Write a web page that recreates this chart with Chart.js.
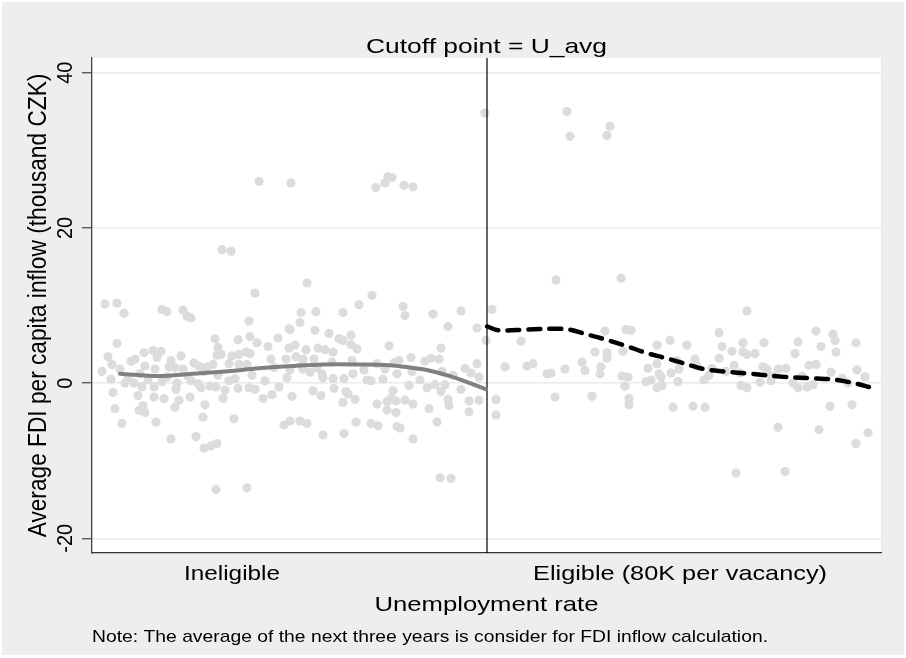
<!DOCTYPE html>
<html>
<head>
<meta charset="utf-8">
<script src="https://cdn.jsdelivr.net/npm/chart.js@4.4.1/dist/chart.umd.min.js"></script>
<style>
  html,body{margin:0;padding:0;background:#fff;}
  #wrap{position:relative;width:906px;height:658px;}
</style>
</head>
<body>
<div id="wrap"><canvas id="chart" width="906" height="658"></canvas></div>
<script>
// ── données ──
const TITLE = 'Cutoff point = U_avg';
const Y_TITLE = 'Average FDI per capita inflow (thousand CZK)';
const X_TITLE = 'Unemployment rate';
const NOTE = 'Note: The average of the next three years is consider for FDI inflow calculation.';
const X_TICKS = [14.0, 58.8];
const X_LABELS = ['Ineligible', 'Eligible (80K per vacancy)'];
const Y_TICKS = [-20, 0, 20, 40];
const X_MIN = 0, X_MAX = 78.9, Y_MIN = -21.9, Y_MAX = 41.9;
const CUTOFF = 39.5;

// nuage : côté non éligible
const leftX = [13.0,13.9,16.3,1.3,2.5,3.2,7.0,7.5,9.1,9.5,9.9,15.7,19.7,2.5,12.3,14.6,15.8,16.5,18.6,17.6,
  19.7,12.6,12.5,12.9,1.6,2.0,5.2,6.1,6.9,6.5,8.9,3.9,4.3,5.3,7.9,7.7,14.0,14.7,15.4,15.8,
  17.9,19.4,10.2,10.7,11.5,12.1,13.7,14.7,15.5,2.8,6.3,8.3,9.1,1.9,3.3,4.2,5.6,6.2,7.5,8.5,
  8.4,10.6,10.9,11.8,12.4,13.3,14.3,14.6,15.7,16.3,18.7,19.5,2.1,4.6,6.2,7.2,9.8,8.7,8.3,13.1,
  17.1,18.0,2.3,4.7,5.1,5.3,11.3,11.1,3.0,6.4,14.2,19.2,7.9,10.4,11.2,11.9,12.5,12.4,15.5,
  3.6,4.8,9.6,11.2,12.6,16.0,17.3,18.2,1.0,5.0,7.0,9.9,13.7,
  21.5,28.0,26.7,31.1,31.3,36.9,34.1,20.9,22.4,25.1,20.8,19.8,22.3,23.7,24.7,25.1,25.9,25.9,26.5,35.6,
  38.5,39.4,20.3,21.4,22.6,23.3,24.1,29.7,34.9,31.9,20.4,21.1,22.2,33.3,33.9,34.7,38.5,37.3,37.9,38.7,
  30.7,30.2,29.3,19.8,21.1,21.8,23.0,23.1,24.1,25.2,26.1,27.2,27.5,27.9,29.1,30.5,32.8,33.5,34.3,35.3,
  36.1,31.7,24.2,20.0,22.1,22.9,25.4,25.6,25.1,26.3,30.1,29.9,29.5,30.4,28.5,31.3,32.1,34.9,35.6,35.7,
  33.7,36.9,37.7,37.7,38.7,29.5,30.4,19.8,20.8,21.5,26.4,27.9,28.6,34.5,30.5,30.8,23.1,25.2,32.1,34.8,35.9,
  39.3,16.7,19.9,28.4,29.3,29.6,30.0,31.2,32.1,
  21.0,24.0,26.0,28.5,32.0,35.0,22.5];
const leftY = [17.2,17.0,11.6,10.2,10.3,9.0,9.5,9.2,9.4,8.6,8.4,8.0,7.0,5.1,5.7,5.6,6.0,5.2,5.8,4.7,
  4.5,4.6,3.6,3.7,3.4,2.4,3.9,4.2,4.1,3.3,3.5,2.8,3.1,2.2,2.9,2.1,3.5,3.7,4.0,3.8,
  3.1,3.1,2.6,2.2,2.1,2.4,2.5,2.4,2.4,1.8,1.8,2.0,1.8,0.5,0.0,0.0,0.4,-0.5,0.8,0.0,
  -0.8,-0.1,-0.6,-0.4,-0.5,-0.9,0.6,-0.7,-0.6,-0.8,-0.5,0.7,-1.2,-1.6,-1.8,-2.0,-1.8,-2.2,-3.1,-2.0,
  -2.0,-1.5,-3.3,-3.5,-2.9,-3.8,-2.8,-4.4,-5.2,-5.0,-4.6,-5.4,-7.2,-6.9,-8.4,-8.1,-7.8,-13.7,-13.5,
  0.6,1.2,0.9,1.5,1.0,1.0,0.3,2.0,1.5,-0.5,0.2,0.3,0.3,
  12.9,11.3,10.1,9.9,8.7,9.3,8.9,9.1,9.2,9.1,7.8,6.9,6.8,6.4,5.7,5.5,6.2,5.0,4.4,7.3,
  7.1,5.5,4.9,4.3,4.5,4.3,4.0,4.8,4.5,3.3,3.4,3.1,3.1,2.8,3.2,3.1,2.5,1.9,1.3,0.8,
  2.9,2.6,1.8,1.7,1.8,1.4,1.2,0.7,0.6,0.6,1.2,1.7,0.4,0.3,0.5,1.2,0.4,-0.6,-0.2,-0.2,
  1.0,-0.3,-0.7,-1.7,-1.0,-1.6,-1.1,-1.4,-2.5,-2.1,-1.0,-2.0,-2.4,-2.3,-2.7,-2.2,-2.7,-1.1,-2.1,-2.9,
  -3.3,-0.8,-2.3,-3.7,-2.2,-3.5,-3.8,-4.9,-4.9,-5.2,-5.0,-5.2,-5.5,-5.0,-5.6,-5.8,-6.7,-6.5,-7.2,-12.2,-12.3,
  34.8,26.0,25.8,25.2,25.8,26.6,26.5,25.5,25.3,
  2.3,2.7,2.9,2.5,1.5,1.5,2.0];

// nuage : côté éligible
const rightX = [47.5,47.8,51.8,51.5,46.4,52.9,40.0,42.9,51.3,53.4,53.9,57.8,56.5,50.3,51.5,51.5,53.1,41.3,43.5,44.1,
  45.5,45.9,47.3,49.0,49.3,50.9,50.8,53.0,53.6,55.6,56.5,56.7,56.9,57.9,58.7,59.5,53.3,55.4,55.9,56.5,
  57.0,58.6,40.4,40.4,46.3,50.0,53.7,53.7,58.1,
  65.5,62.7,72.4,74.1,74.3,76.4,63.0,65.1,67.2,70.6,64.0,65.1,65.5,66.3,70.3,72.9,74.4,62.7,60.3,64.2,
  67.1,67.5,68.6,69.4,71.7,72.4,73.9,76.5,77.3,61.2,61.7,63.4,66.8,67.9,64.9,65.5,70.1,70.6,71.5,72.1,
  75.6,60.1,61.3,73.8,76.0,68.6,72.7,76.4,77.6,64.4,69.3,
  60.5,62.0,64.8,68.0,71.0,75.0,58.5];
const rightY = [35.0,31.8,33.1,31.9,13.3,13.5,9.5,5.4,6.7,6.9,6.8,5.5,4.9,4.0,3.9,3.2,4.1,2.1,2.2,2.5,
  1.2,1.3,1.8,2.7,1.6,2.1,1.2,0.9,0.8,1.9,2.5,1.2,0.8,1.3,1.8,4.9,-0.4,0.2,0.4,-0.6,
  -0.3,0.2,-2.1,-4.1,-1.8,-1.7,-2.0,-2.8,-3.1,
  9.3,6.5,6.7,6.3,5.5,5.2,4.7,5.2,5.2,5.3,4.1,4.0,3.7,3.8,3.8,4.7,4.0,3.2,3.1,2.3,
  2.1,1.8,1.8,1.9,2.3,2.4,1.4,1.7,0.8,0.4,1.0,1.5,0.1,0.3,-0.3,-0.6,0.0,-0.6,-0.5,-0.2,
  0.0,-3.0,-3.1,-3.0,-2.8,-5.7,-6.0,-7.8,-6.4,-11.6,-11.4,
  2.2,1.9,1.3,0.9,0.9,0.6,2.9];

// ajustements locaux (lowess) de part et d'autre du seuil
const fitLeftX = [2.8,6.7,10.0,13.3,16.7,20.0,23.1,26.5,29.8,31.8,33.8,35.8,37.8,39.4];
const fitLeftY = [1.2,0.9,1.2,1.5,1.9,2.2,2.4,2.4,2.3,2.0,1.6,0.9,0.0,-0.8];
const fitRightX = [39.5,40.7,43.4,46.1,47.7,49.4,51.4,53.4,55.4,57.4,59.3,61.2,63.2,65.9,69.2,72.5,74.5,76.5,77.7];
const fitRightY = [7.3,6.8,6.9,7.0,6.9,6.3,5.6,4.8,3.9,3.2,2.5,1.8,1.5,1.2,0.8,0.6,0.4,-0.1,-0.5];

const pts = (xs, ys) => xs.map((x,i) => ({ x, y: ys[i] }));
const FONT = '"Liberation Sans", Arial, sans-serif';

// texte façon Stata (glyphes étirés horizontalement)
function label(ctx, s, x, y, o){
  ctx.save();
  ctx.font = o.size + 'px ' + FONT;
  ctx.fillStyle = '#000';
  ctx.textAlign = o.align || 'center';
  ctx.textBaseline = 'alphabetic';
  const m = ctx.measureText(s).width;
  ctx.translate(x, y);
  if(o.rot){ ctx.scale(1.1, 1); ctx.rotate(-Math.PI/2); }
  else ctx.scale(o.w ? o.w/m : 1, 1);
  ctx.fillText(s, 0, 0);
  ctx.restore();
}

const decor = {
  id: 'decor',
  beforeDraw(chart){
    const { ctx, chartArea: a } = chart;
    ctx.save();
    ctx.fillStyle = '#fff';
    ctx.fillRect(0, 0, chart.width, chart.height);
    ctx.fillStyle = '#eeeeee';
    ctx.fillRect(2, 2, chart.width - 4, chart.height - 5);
    ctx.fillStyle = '#fff';
    ctx.fillRect(a.left, a.top, a.right - a.left, a.bottom - a.top);
    ctx.strokeStyle = '#e3eaec';
    ctx.lineWidth = 1;
    ctx.beginPath(); ctx.moveTo(a.right + 0.5, a.top); ctx.lineTo(a.right + 0.5, a.bottom); ctx.stroke();
    ctx.restore();
  },
  afterDraw(chart){
    const { ctx, chartArea: a, scales: { x, y } } = chart;
    const cx = (a.left + a.right) / 2;
    label(ctx, TITLE, cx, 53, { size: 21, w: 241 });
    X_TICKS.forEach((v,i) => {
      const w = i ? 294 : 96;
      label(ctx, X_LABELS[i], x.getPixelForValue(v), 580, { size: 21, w });
    });
    label(ctx, X_TITLE, cx, 611, { size: 21, w: 224 });
    label(ctx, NOTE, a.left, 642, { size: 17, w: 676, align: 'left' });
    Y_TICKS.forEach(v => label(ctx, String(v), 72, y.getPixelForValue(v), { size: 20, rot: true }));
    label(ctx, Y_TITLE, 46, (a.top + a.bottom) / 2, { size: 22.7, rot: true });
  }
};

new Chart(document.getElementById('chart'), {
  type: 'scatter',
  data: {
    datasets: [
      { label: 'seuil', data: [{x:CUTOFF,y:Y_MIN},{x:CUTOFF,y:Y_MAX}], showLine: true,
        borderColor: '#000', borderWidth: 1.2, pointRadius: 0, order: 1 },
      { label: 'fit gauche', data: pts(fitLeftX, fitLeftY), showLine: true, tension: 0.35,
        borderColor: '#808080', borderWidth: 4, pointRadius: 0, borderCapStyle: 'round', order: 0 },
      { label: 'fit droite', data: pts(fitRightX, fitRightY), showLine: true, tension: 0.35,
        borderColor: '#000', borderWidth: 4.5, borderDash: [12, 9], borderCapStyle: 'round',
        pointRadius: 0, order: 0 },
      { label: 'inéligible', data: pts(leftX, leftY), pointRadius: 4.6, pointBorderWidth: 0,
        pointBackgroundColor: '#dcdcdc', order: 2 },
      { label: 'éligible', data: pts(rightX, rightY), pointRadius: 4.6, pointBorderWidth: 0,
        pointBackgroundColor: '#dcdcdc', order: 2 }
    ]
  },
  options: {
    responsive: false,
    animation: false,
    events: [],
    layout: { padding: { top: 58, right: 25, bottom: 0, left: 0 } },
    plugins: { legend: { display: false }, tooltip: { enabled: false }, title: { display: false } },
    scales: {
      x: {
        type: 'linear', min: X_MIN, max: X_MAX,
        grid: { display: false },
        ticks: { display: false },
        border: { display: true, color: '#333', width: 1.3 },
        afterFit: s => { s.height = 105; }
      },
      y: {
        type: 'linear', min: Y_MIN, max: Y_MAX,
        afterBuildTicks: s => { s.ticks = Y_TICKS.map(v => ({ value: v })); },
        grid: { color: '#e4ecee', lineWidth: 1.5, drawTicks: true, tickLength: 10, tickColor: '#444', tickWidth: 1.2 },
        ticks: { display: false },
        border: { display: true, color: '#444', width: 1.3 },
        afterFit: s => { s.width = 92; }
      }
    }
  },
  plugins: [decor]
});
</script>
</body>
</html>
